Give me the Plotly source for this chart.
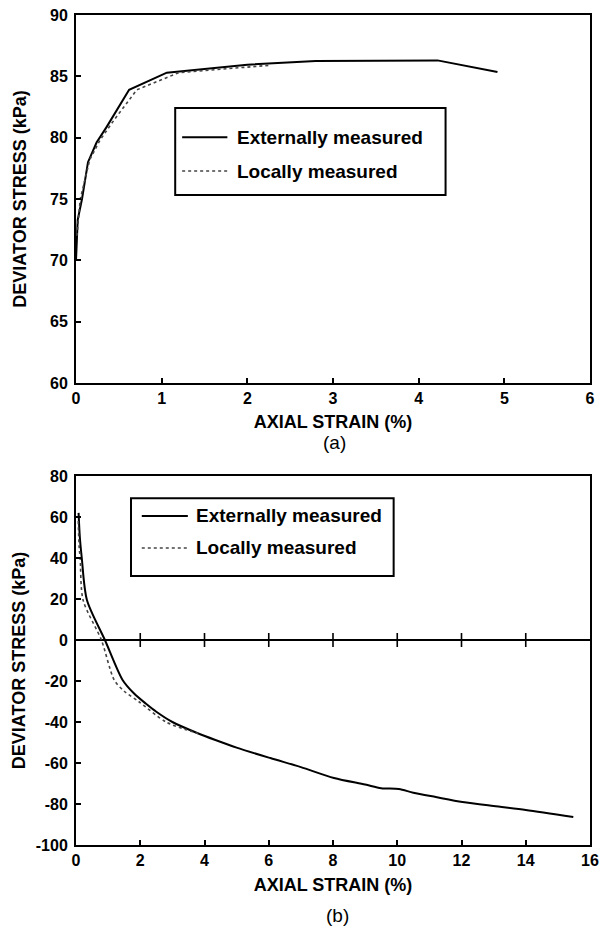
import plotly.graph_objects as go

# ---- (a) loading stage: deviator stress vs axial strain ----
a_ext_strain = [0.0, 0.02, 0.07, 0.14, 0.24, 0.36, 0.62, 1.06, 1.5, 2.0, 2.8, 4.22, 4.92]
a_ext_stress = [70.0, 73.3, 75.0, 78.0, 79.6, 80.9, 83.9, 85.3, 85.6, 85.95, 86.25, 86.3, 85.35]
a_loc_strain = [0.01, 0.05, 0.16, 0.28, 0.45, 0.71, 1.2, 1.7, 2.26]
a_loc_stress = [72.0, 75.0, 78.2, 79.8, 81.5, 83.9, 85.3, 85.6, 85.9]

# ---- (b) extension stage ----
b_ext_strain = [0.08, 0.12, 0.18, 0.34, 0.9, 1.45, 1.8, 2.17, 2.5, 3.0, 3.79, 4.34, 5.0,
                6.05, 7.0, 8.03, 9.0, 9.5, 10.05, 10.5, 11.2, 12.03, 13.0, 14.0, 15.48]
b_ext_stress = [62.0, 50.0, 40.0, 19.5, 0.0, -19.5, -26.0, -31.0, -35.0, -40.0, -45.5, -48.8,
                -52.5, -57.6, -62.0, -67.3, -70.5, -72.3, -72.7, -74.5, -76.6, -79.0, -81.0,
                -82.9, -86.3]
b_loc_strain = [0.07, 0.10, 0.13, 0.22, 0.79, 1.19, 1.5, 1.95, 2.8, 3.4, 3.8]
b_loc_stress = [58.0, 45.0, 40.0, 19.5, 0.0, -19.5, -25.0, -30.0, -40.0, -43.6, -45.6]

# tick marks drawn along the zero-stress line of (b)
b_zero_ticks = [2, 4, 6, 8, 10, 12, 14]

# axis tick values / labels
a_xticks = [0, 1, 2, 3, 4, 5, 6]
a_yticks = [60, 65, 70, 75, 80, 85, 90]
b_xticks = [0, 2, 4, 6, 8, 10, 12, 14, 16]
b_yticks = [-100, -80, -60, -40, -20, 0, 20, 40, 60, 80]

series_names = ["Externally measured", "Locally measured"]
panel_labels = ["(a)", "(b)"]
x_title = "AXIAL STRAIN (%)"
y_title = "DEVIATOR STRESS (kPa)"

FONT = "Liberation Sans"
INK = "black"
DOT = "#444444"


def bold(vals):
    return [f"<b>{v}</b>" for v in vals]


fig = go.Figure()

fig.add_trace(go.Scatter(x=a_ext_strain, y=a_ext_stress, mode="lines",
                         line=dict(color=INK, width=2), xaxis="x", yaxis="y",
                         name=series_names[0], showlegend=False))
fig.add_trace(go.Scatter(x=a_loc_strain, y=a_loc_stress, mode="lines",
                         line=dict(color=DOT, width=1.6, dash="dot"), xaxis="x", yaxis="y",
                         name=series_names[1], showlegend=False))
fig.add_trace(go.Scatter(x=b_ext_strain, y=b_ext_stress, mode="lines",
                         line=dict(color=INK, width=2, shape="spline", smoothing=0.8),
                         xaxis="x2", yaxis="y2", name=series_names[0], showlegend=False))
fig.add_trace(go.Scatter(x=b_loc_strain, y=b_loc_stress, mode="lines",
                         line=dict(color=DOT, width=1.6, dash="dot", shape="spline", smoothing=0.8),
                         xaxis="x2", yaxis="y2", name=series_names[1], showlegend=False))
fig.add_trace(go.Scatter(x=b_zero_ticks, y=[0] * len(b_zero_ticks), mode="markers",
                         marker=dict(symbol="line-ns", size=10, line=dict(color=INK, width=1.6)),
                         xaxis="x2", yaxis="y2", showlegend=False, hoverinfo="skip"))

tick_font = dict(family=FONT, size=16, color=INK, weight="bold")
title_font = dict(family=FONT, size=18, color=INK, weight="bold")

axis_common = dict(showline=True, linecolor=INK, linewidth=2, mirror=True,
                   ticks="inside", ticklen=5, tickwidth=1.5, tickcolor=INK,
                   showgrid=False, zeroline=False, tickfont=tick_font, tickmode="array")

# plot area: x 76..599 px, top panel 15..383 px, bottom panel 476..845 px
H_PLOT = 830
top_dom = [(845 - 383) / H_PLOT, 1.0]
bot_dom = [0.0, (845 - 476) / H_PLOT]

fig.update_layout(
    width=605, height=928,
    margin=dict(l=76, r=6, t=15, b=83),
    paper_bgcolor="white", plot_bgcolor="white",
    showlegend=False,
    xaxis=dict(axis_common, range=[0, 6], tickvals=a_xticks, ticktext=bold(a_xticks),
               anchor="y", domain=[0, 1],
               title=dict(text=x_title, font=title_font, standoff=9)),
    yaxis=dict(axis_common, range=[60, 90], tickvals=a_yticks, ticktext=bold(a_yticks),
               anchor="x", domain=top_dom, ticklabelstandoff=3,
               title=dict(text=y_title, font=title_font, standoff=19)),
    xaxis2=dict(axis_common, range=[0, 16], tickvals=b_xticks, ticktext=bold(b_xticks),
                anchor="y2", domain=[0, 1],
                title=dict(text=x_title, font=title_font, standoff=10)),
    yaxis2=dict(axis_common, range=[-100, 80], tickvals=b_yticks, ticktext=bold(b_yticks),
                anchor="x2", domain=bot_dom, ticklabelstandoff=3,
                zeroline=True, zerolinecolor=INK, zerolinewidth=1.6,
                title=dict(text=y_title, font=title_font, standoff=5)),
)

# panel labels under each x-axis title
fig.add_annotation(text=panel_labels[0], xref="paper", yref="paper", x=0.503,
                   y=(845 - 442) / H_PLOT, yanchor="middle", showarrow=False,
                   font=dict(family=FONT, size=19, color=INK))
fig.add_annotation(text=panel_labels[1], xref="paper", yref="paper", x=0.509,
                   y=(845 - 915) / H_PLOT, yanchor="middle", showarrow=False,
                   font=dict(family=FONT, size=19, color=INK))


def add_key(xa, ya, box, rows, sample, text_x):
    """Boxed key inside a panel, positioned in axis-domain fractions."""
    xr, yr = f"{xa} domain", f"{ya} domain"
    fig.add_shape(type="rect", xref=xr, yref=yr, x0=box[0], x1=box[1], y0=box[2], y1=box[3],
                  line=dict(color=INK, width=2), fillcolor="white", layer="above")
    styles = [dict(color=INK, width=2), dict(color=DOT, width=1.6, dash="dot")]
    for name, yrow, st in zip(series_names, rows, styles):
        fig.add_shape(type="line", xref=xr, yref=yr, x0=sample[0], x1=sample[1],
                      y0=yrow, y1=yrow, line=st, layer="above")
        fig.add_annotation(text=f"<b>{name}</b>", xref=xr, yref=yr, x=text_x, y=yrow,
                           xanchor="left", yanchor="middle", showarrow=False,
                           font=dict(family=FONT, size=19, color=INK))


add_key("x", "y", box=[0.193, 0.719, 0.511, 0.747], rows=[0.668, 0.576],
        sample=[0.2065, 0.2945], text_x=0.309)
add_key("x2", "y2", box=[0.107, 0.618, 0.729, 0.940], rows=[0.8916, 0.805],
        sample=[0.128, 0.2176], text_x=0.229)

fig.write_html("out.html")
